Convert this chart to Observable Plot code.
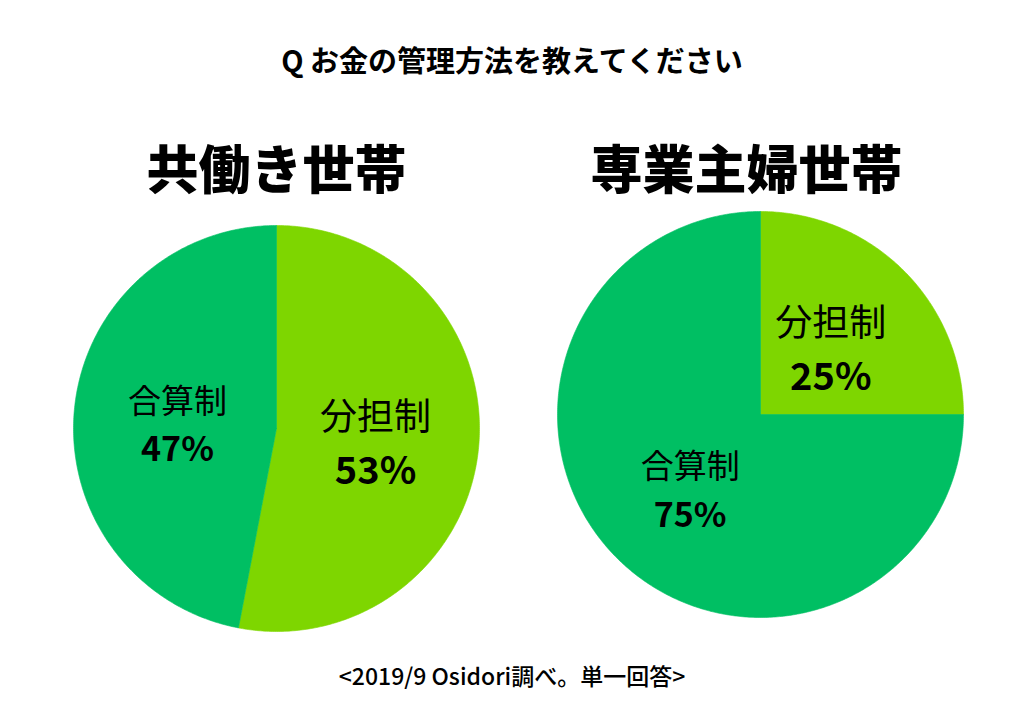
<!DOCTYPE html>
<html>
<head>
<meta charset="utf-8">
<script src="https://cdn.jsdelivr.net/npm/d3@7"></script>
<script src="https://cdn.jsdelivr.net/npm/@observablehq/plot@0.6"></script>
<style>
  html, body { margin: 0; padding: 0; background: #ffffff; }
  #wrap { position: relative; width: 1024px; height: 727px; background: #ffffff; overflow: hidden;
          font-family: "Noto Sans CJK JP", "Noto Sans", sans-serif; color: #000; }
  #title { position: absolute; left: 0; width: 1024px; top: 40px; text-align: center;
           font-size: 29px; font-weight: 700; line-height: 38px; }
  #footer { position: absolute; left: 0; width: 1024px; top: 660px; text-align: center;
            font-size: 23px; font-weight: 500; line-height: 30px; }
  .pane { position: absolute; top: 0; }
</style>
</head>
<body>
<div id="wrap">
  <div id="title"></div>
  <div id="left" class="pane" style="left:0px"></div>
  <div id="right" class="pane" style="left:512px"></div>
  <div id="footer"></div>
</div>
<script>
// ---- data ----
const chartTitle = "Q お金の管理方法を教えてください";
const footnote = "<2019/9 Osidori調べ。単一回答>";
const groups = ["共働き世帯", "専業主婦世帯"];
const categories = ["分担制", "合算制"];
const dualIncomeShares = [53, 47];
const singleIncomeShares = [25, 75];

const colors = ["#7ed600", "#00bf63"];
const FONT = "Noto Sans CJK JP";

document.getElementById("title").textContent = chartTitle;
document.getElementById("footer").textContent = footnote;

function pieChart(group, shares, m, titleDy, titleDx) {
  const rows = categories.map((c, i) => ({category: c, value: shares[i]}));
  const arcs = d3.pie().sort(null).value(d => d.value)(rows);
  // polygon vertices for each slice in unit-circle data space (y up)
  const pts = [];
  const labels = [];
  for (const a of arcs) {
    const c = a.data.category;
    pts.push({category: c, x: 0, y: 0});
    const n = Math.max(2, Math.ceil((a.endAngle - a.startAngle) / 0.01));
    for (let k = 0; k <= n; k++) {
      const t = a.startAngle + (a.endAngle - a.startAngle) * k / n;
      pts.push({category: c, x: Math.sin(t), y: Math.cos(t)});
    }
    pts.push({category: c, x: 0, y: 0});
    const mid = (a.startAngle + a.endAngle) / 2;
    const r = 0.49;
    labels.push({category: c, pct: a.data.value + "%", x: r * Math.sin(mid), y: r * Math.cos(mid)});
  }
  const big = labels.filter(d => d.category === categories[0]);
  const small = labels.filter(d => d.category === categories[1]);
  const size = 406;
  const shift = 7;
  return Plot.plot({
    width: 512,
    height: 727,
    marginLeft: m.left,
    marginRight: 512 - m.left - size,
    marginTop: m.top,
    marginBottom: 727 - m.top - size,
    x: {domain: [-1, 1], axis: null},
    y: {domain: [-1, 1], axis: null},
    color: {domain: categories, range: colors},
    style: {fontFamily: FONT, background: "transparent", overflow: "visible"},
    marks: [
      Plot.line(pts, {x: "x", y: "y", z: "category", fill: "category", stroke: "category", strokeWidth: 0.6, curve: "linear"}),
      Plot.text([group], {frameAnchor: "top", dy: titleDy, dx: titleDx, text: d => d, fontSize: 52, fontWeight: 900, fill: "#000", lineAnchor: "middle", fontFamily: FONT}),
      Plot.text(big, {x: "x", y: "y", text: "category", dy: shift - 27, fontSize: 37, fontWeight: 400, fill: "#000", lineAnchor: "middle", fontFamily: FONT}),
      Plot.text(big, {x: "x", y: "y", text: "pct", dy: shift + 27, fontSize: 38, fontWeight: 700, fill: "#000", lineAnchor: "middle", fontFamily: FONT}),
      Plot.text(small, {x: "x", y: "y", text: "category", dy: shift - 24, fontSize: 33, fontWeight: 400, fill: "#000", lineAnchor: "middle", fontFamily: FONT}),
      Plot.text(small, {x: "x", y: "y", text: "pct", dy: shift + 24, fontSize: 34, fontWeight: 700, fill: "#000", lineAnchor: "middle", fontFamily: FONT})
    ]
  });
}

document.getElementById("left").appendChild(pieChart(groups[0], dualIncomeShares, {left: 73, top: 225}, -53, 0));
document.getElementById("right").appendChild(pieChart(groups[1], singleIncomeShares, {left: 45, top: 211}, -39, -14));
</script>
</body>
</html>
